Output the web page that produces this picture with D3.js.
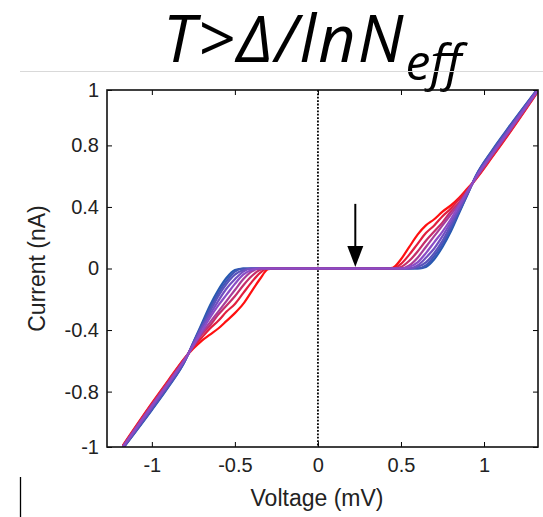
<!DOCTYPE html>
<html>
<head>
<meta charset="utf-8">
<script src="https://cdn.jsdelivr.net/npm/d3@7"></script>
<style>
  body { margin: 0; background: #fff; }
  svg { display: block; }
</style>
</head>
<body>
<svg id="chart"></svg>
<script>
// voltage grid (mV), shared by every curve
const voltage = [-1.175, -1.0, -0.9, -0.8, -0.75, -0.7, -0.65, -0.6, -0.55, -0.5, -0.45, -0.4, -0.35, -0.3, -0.25,
                 0.4, 0.45, 0.5, 0.55, 0.6, 0.65, 0.7, 0.75, 0.8, 0.85, 0.9, 0.95, 1.05, 1.15, 1.325];

// current (nA) for each curve, blue (first) to red (last)
const currentCurves = [
  [-1.17, -0.92, -0.77, -0.60, -0.48, -0.36, -0.24, -0.14, -0.06, -0.01, 0, 0, 0, 0, 0,
   0, 0, 0, 0, 0, 0.01, 0.06, 0.14, 0.24, 0.36, 0.48, 0.60, 0.77, 0.92, 1.17],
  [-1.17, -0.915, -0.765, -0.60, -0.48, -0.37, -0.26, -0.16, -0.08, -0.02, 0, 0, 0, 0, 0,
   0, 0, 0, 0, 0, 0.02, 0.08, 0.16, 0.26, 0.37, 0.48, 0.60, 0.765, 0.915, 1.17],
  [-1.165, -0.91, -0.76, -0.595, -0.49, -0.38, -0.28, -0.18, -0.10, -0.04, -0.01, 0, 0, 0, 0,
   0, 0, 0, 0, 0.01, 0.04, 0.10, 0.18, 0.28, 0.38, 0.49, 0.595, 0.76, 0.91, 1.165],
  [-1.165, -0.90, -0.75, -0.59, -0.49, -0.39, -0.30, -0.21, -0.13, -0.07, -0.02, 0, 0, 0, 0,
   0, 0, 0, 0, 0.02, 0.07, 0.13, 0.21, 0.30, 0.39, 0.49, 0.59, 0.75, 0.90, 1.165],
  [-1.16, -0.895, -0.745, -0.59, -0.50, -0.41, -0.32, -0.24, -0.17, -0.10, -0.04, -0.01, 0, 0, 0,
   0, 0, 0, 0.01, 0.04, 0.10, 0.17, 0.24, 0.32, 0.41, 0.50, 0.59, 0.745, 0.895, 1.16],
  [-1.16, -0.89, -0.74, -0.585, -0.50, -0.42, -0.35, -0.28, -0.21, -0.14, -0.07, -0.02, 0, 0, 0,
   0, 0, 0, 0.02, 0.07, 0.14, 0.21, 0.28, 0.35, 0.42, 0.50, 0.585, 0.74, 0.89, 1.16],
  [-1.155, -0.885, -0.735, -0.585, -0.505, -0.43, -0.37, -0.30, -0.24, -0.18, -0.11, -0.05, -0.01, 0, 0,
   0, 0, 0.01, 0.05, 0.11, 0.18, 0.24, 0.30, 0.37, 0.43, 0.505, 0.585, 0.735, 0.885, 1.155],
  [-1.155, -0.88, -0.73, -0.58, -0.51, -0.45, -0.39, -0.34, -0.28, -0.23, -0.16, -0.09, -0.03, 0, 0,
   0, 0, 0.03, 0.09, 0.16, 0.23, 0.28, 0.34, 0.39, 0.45, 0.51, 0.58, 0.73, 0.88, 1.155],
  [-1.15, -0.875, -0.725, -0.58, -0.52, -0.47, -0.43, -0.39, -0.34, -0.29, -0.23, -0.15, -0.07, -0.005, 0,
   0, 0.005, 0.06, 0.14, 0.22, 0.28, 0.32, 0.37, 0.41, 0.46, 0.52, 0.58, 0.725, 0.875, 1.15]
];

const xTicks = [-1, -0.5, 0, 0.5, 1];
const xTickLabels = ["-1", "-0.5", "0", "0.5", "1"];
const yTicks = [-1.16, -0.8, -0.4, 0, 0.4, 0.8, 1.16];
const yTickLabels = ["-1", "-0.8", "-0.4", "0", "0.4", "0.8", "1"];

// arrow pointing down at the gap
const arrowVoltage = 0.225;
const arrowFrom = 0.42;
const arrowTo = 0.01;

const width = 543, height = 517;
const mLeft = 107, mRight = 538, mTop = 90, mBottom = 447;

const svg = d3.select("#chart").attr("width", width).attr("height", height);

const x = d3.scaleLinear().domain([-1.27, 1.325]).range([mLeft, mRight]);
const y = d3.scaleLinear().domain([-1.16, 1.16]).range([mBottom, mTop]);

const mid = (currentCurves.length - 1) / 2;
const color = d3.scaleLinear()
  .domain([0, mid, currentCurves.length - 1])
  .range(["#2659b0", "#8a4cc6", "#ff1010"]);

// title
const title = svg.append("text")
  .attr("x", 163).attr("y", 62)
  .style("font-family", "'Open Sans', sans-serif")
  .style("font-style", "italic")
  .style("font-size", "65px")
  .style("letter-spacing", "2px")
  .attr("fill", "#000");
title.append("tspan").text("T>Δ/lnN");
title.append("tspan").attr("dy", 18).style("font-size", "50px").style("letter-spacing", "0px").text("eff");

// thin grey separator and stray mark
svg.append("line").attr("x1", 20).attr("x2", width).attr("y1", 71.5).attr("y2", 71.5)
  .attr("stroke", "#d9d9d9").attr("stroke-width", 1);
svg.append("line").attr("x1", 20.5).attr("x2", 20.5).attr("y1", 477).attr("y2", height)
  .attr("stroke", "#000").attr("stroke-width", 1.3);

svg.append("clipPath").attr("id", "plotClip")
  .append("rect").attr("x", mLeft).attr("y", mTop).attr("width", mRight - mLeft).attr("height", mBottom - mTop);

const plot = svg.append("g").attr("clip-path", "url(#plotClip)");

// dotted line at zero bias
plot.append("line")
  .attr("x1", x(0)).attr("x2", x(0)).attr("y1", mTop).attr("y2", mBottom)
  .attr("stroke", "#000").attr("stroke-width", 1.8).attr("stroke-dasharray", "1.8,1.6");

const line = d3.line()
  .x((d, i) => x(voltage[i]))
  .y(d => y(d))
  .curve(d3.curveMonotoneX);

// outer curves first so the middle (purple) one ends on top
const order = d3.range(currentCurves.length)
  .sort((a, b) => Math.abs(b - mid) - Math.abs(a - mid));

plot.selectAll("path.iv")
  .data(order)
  .enter()
  .append("path")
  .attr("class", "iv")
  .attr("d", k => line(currentCurves[k]))
  .attr("fill", "none")
  .attr("stroke", k => color(k))
  .attr("stroke-width", 2.2);

// arrow
svg.append("line")
  .attr("x1", x(arrowVoltage)).attr("x2", x(arrowVoltage))
  .attr("y1", y(arrowFrom)).attr("y2", y(arrowTo) - 14)
  .attr("stroke", "#000").attr("stroke-width", 2);
svg.append("path")
  .attr("d", `M${x(arrowVoltage) - 8},${y(arrowTo) - 21} L${x(arrowVoltage) + 8},${y(arrowTo) - 21} L${x(arrowVoltage)},${y(arrowTo)} Z`)
  .attr("fill", "#000");

// axes (MATLAB style box, ticks inside)
const tickFont = g => g.selectAll("text")
  .style("font-family", "'Liberation Sans', Arial, sans-serif")
  .style("font-size", "20px")
  .attr("fill", "#222");

svg.append("g").attr("transform", `translate(0,${mBottom})`)
  .call(d3.axisBottom(x).tickValues(xTicks).tickFormat((d, i) => xTickLabels[i])
    .tickSizeInner(-5).tickSizeOuter(0).tickPadding(11))
  .call(g => g.select(".domain").remove())
  .call(tickFont);

svg.append("g").attr("transform", `translate(${mLeft},0)`)
  .call(d3.axisLeft(y).tickValues(yTicks).tickFormat((d, i) => yTickLabels[i])
    .tickSizeInner(-5).tickSizeOuter(0).tickPadding(8))
  .call(g => g.select(".domain").remove())
  .call(tickFont);

svg.append("g").attr("transform", `translate(0,${mTop})`)
  .call(d3.axisTop(x).tickValues(xTicks).tickFormat("").tickSizeInner(-5).tickSizeOuter(0))
  .call(g => g.select(".domain").remove());

svg.append("g").attr("transform", `translate(${mRight},0)`)
  .call(d3.axisRight(y).tickValues(yTicks).tickFormat("").tickSizeInner(-5).tickSizeOuter(0))
  .call(g => g.select(".domain").remove());

svg.append("rect")
  .attr("x", mLeft).attr("y", mTop).attr("width", mRight - mLeft).attr("height", mBottom - mTop)
  .attr("fill", "none").attr("stroke", "#111").attr("stroke-width", 1.6);

// axis titles
svg.append("text")
  .attr("x", 317).attr("y", 506)
  .attr("text-anchor", "middle")
  .style("font-family", "'Liberation Sans', Arial, sans-serif")
  .style("font-size", "23px")
  .attr("fill", "#222")
  .text("Voltage (mV)");

svg.append("text")
  .attr("transform", `translate(45,${(mTop + mBottom) / 2}) rotate(-90)`)
  .attr("text-anchor", "middle")
  .style("font-family", "'Liberation Sans', Arial, sans-serif")
  .style("font-size", "23px")
  .attr("fill", "#222")
  .text("Current (nA)");
</script>
</body>
</html>
